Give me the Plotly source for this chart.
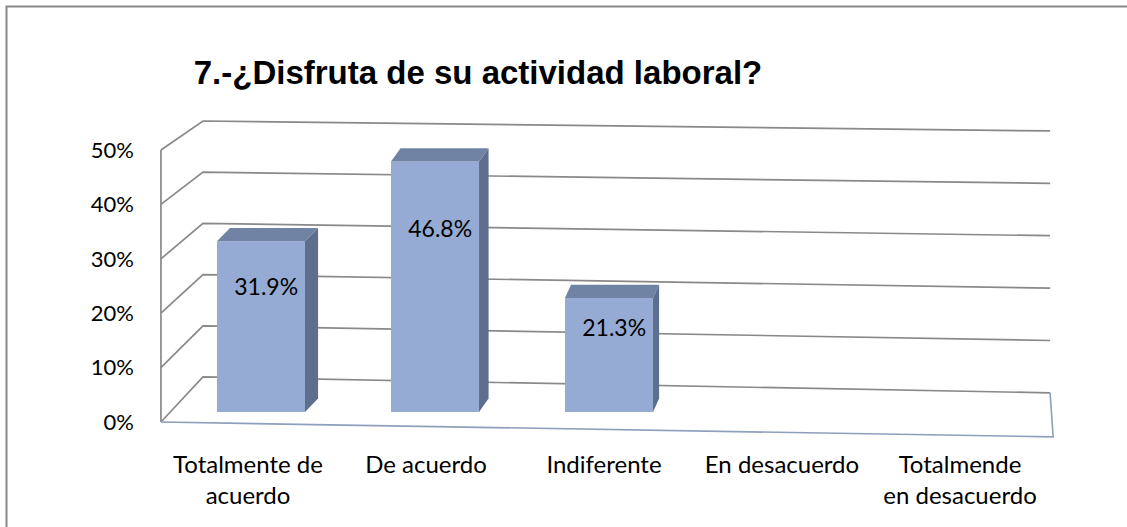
import plotly.graph_objects as go

# ---- data ----
categories = ["Totalmente de acuerdo", "De acuerdo", "Indiferente", "En desacuerdo", "Totalmende en desacuerdo"]
tick_text = ["Totalmente de<br>acuerdo", "De acuerdo", "Indiferente", "En desacuerdo", "Totalmende<br>en desacuerdo"]
values = [0.319, 0.468, 0.213, 0.0, 0.0]
y_ticks = [0.0, 0.1, 0.2, 0.3, 0.4, 0.5]
title_text = "7.-¿Disfruta de su actividad laboral?"

W, H = 1127, 527
FRONT = "#95ABD3"
TOP = "#7083A4"
SIDE = "#5E6F8E"
GRID = "#898989"
FLOOR = "#8E9FBC"

idx = list(range(len(categories)))

# ---- pseudo-3D geometry (walls subplot units: back-plane categories / back-left value units) ----
BL_X = -0.5                      # back-left edge
BR_X = 4.5                       # back-right edge
BR_Y0, BR_S = -0.031, 1.023      # back-right: offset and scale of value
FL_X = -0.748                    # front-left edge
FL_Y0, FL_S = -0.088, 1.0625     # front-left: offset and scale of value
FR_X, FR_Y0 = 4.518, -0.117      # front-right floor corner

fig = go.Figure()

# back wall gridlines + left wall lines
gx, gy = [], []
for v in y_ticks:
    gx += [FL_X, BL_X, BR_X, None]
    gy += [FL_Y0 + FL_S * v, v, BR_Y0 + BR_S * v, None]
# front-left vertical edge
gx += [FL_X, FL_X, None]
gy += [FL_Y0 + FL_S * y_ticks[0], FL_Y0 + FL_S * y_ticks[-1], None]
fig.add_trace(go.Scatter(x=gx, y=gy, mode="lines", line=dict(color=GRID, width=1.7),
                         hoverinfo="skip", showlegend=False, xaxis="x", yaxis="y"))
# floor outline (front and right edges)
fig.add_trace(go.Scatter(x=[FL_X, FR_X, BR_X], y=[FL_Y0, FR_Y0, BR_Y0], mode="lines",
                         line=dict(color=FLOOR, width=1.6), hoverinfo="skip",
                         showlegend=False, xaxis="x", yaxis="y"))

# ---- bars (front faces) ----
BW = 0.506
fig.add_trace(go.Bar(x=idx, y=values, width=BW, marker=dict(color=FRONT, line=dict(width=0)),
                     hovertext=categories, hoverinfo="text+y", showlegend=False,
                     xaxis="x2", yaxis="y2"))

# top and side faces
DY = 0.025
for i, v in zip(idx, values):
    if v <= 0:
        continue
    dx = 0.075 - 0.02 * i
    l, r = i - BW / 2, i + BW / 2
    fig.add_trace(go.Scatter(x=[l, r, r + dx, l + dx, l], y=[v, v, v + DY, v + DY, v],
                             fill="toself", fillcolor=TOP, mode="lines", line=dict(width=0, color=TOP),
                             hoverinfo="skip", showlegend=False, xaxis="x2", yaxis="y2"))
    fig.add_trace(go.Scatter(x=[r, r, r + dx, r + dx, r], y=[0, v, v + DY, DY, 0],
                             fill="toself", fillcolor=SIDE, mode="lines", line=dict(width=0, color=SIDE),
                             hoverinfo="skip", showlegend=False, xaxis="x2", yaxis="y2"))

# data labels
lab_x = [i + 0.03 for i, v in zip(idx, values) if v > 0]
lab_y = [0.72 * v for v in values if v > 0]
lab_t = [f"{v * 100:.1f}%" for v in values if v > 0]
fig.add_trace(go.Scatter(x=lab_x, y=lab_y, text=lab_t, mode="text",
                         textfont=dict(family="Lato", size=23, color="black"),
                         hoverinfo="skip", showlegend=False, xaxis="x2", yaxis="y2"))

# front plane (axis labels only)
fig.add_trace(go.Scatter(x=[None], y=[None], mode="markers", showlegend=False,
                         hoverinfo="skip", xaxis="x3", yaxis="y3"))

hidden = dict(visible=False, fixedrange=True, automargin=False)
fx, fy = 6.5 / W, 1 - 6.5 / H
fig.update_layout(
    width=W, height=H,
    margin=dict(l=0, r=0, t=0, b=0, autoexpand=False),
    paper_bgcolor="white",
    plot_bgcolor="rgba(0,0,0,0)",
    title=dict(text=f"<b>{title_text}</b>", x=478 / W, xanchor="center",
               y=1 - 72 / H, yanchor="middle", automargin=False,
               font=dict(family="Liberation Sans", size=33, color="black")),
    xaxis=dict(domain=[0, 1], range=[-1.698, 4.954], **hidden),
    yaxis=dict(domain=[0, 1], range=[-0.293, 0.7363], **hidden),
    xaxis2=dict(domain=[174 / W, 1044 / W], range=[-0.5, 4.5], anchor="y2", **hidden),
    yaxis2=dict(domain=[0, 1], range=[-0.215, 0.770], anchor="x2", **hidden),
    xaxis3=dict(domain=[159 / W, 1049 / W], range=[-0.5, 4.5], anchor="y3", automargin=False,
                tickvals=idx, ticktext=tick_text, showgrid=False, zeroline=False,
                showline=False, ticks="", ticklabelstandoff=26,
                tickfont=dict(family="Lato", size=24, color="black"), fixedrange=True),
    yaxis3=dict(domain=[(H - 422) / H, (H - 150) / H], range=[0, 0.5], anchor="x3", automargin=False,
                tickvals=y_ticks, tickformat=".0%", showgrid=False, zeroline=False,
                showline=False, ticks="", ticklabelstandoff=24,
                tickfont=dict(family="Lato", size=22, color="black"), fixedrange=True),
    shapes=[dict(type="path", xref="paper", yref="paper",
                 path=f"M {fx},0 L {fx},{fy} L 1,{fy}",
                 line=dict(color="#878787", width=2), layer="above")],
)

fig.write_html("out.html", config={"displayModeBar": False},
               post_script="document.body.style.margin='0';document.body.style.overflow='hidden';")
